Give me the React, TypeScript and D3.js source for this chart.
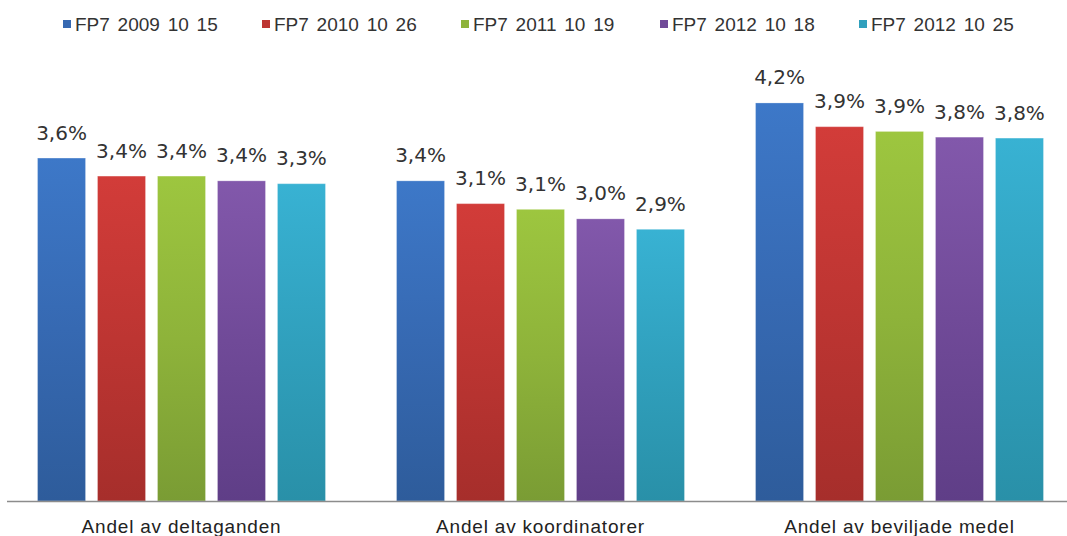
import React from "react";
import * as d3 from "d3";

// categories on the x axis
const categories = ["Andel av deltaganden", "Andel av koordinatorer", "Andel av beviljade medel"];

// series (legend) names
const seriesNames = ["FP7 2009 10 15", "FP7 2010 10 26", "FP7 2011 10 19", "FP7 2012 10 18", "FP7 2012 10 25"];

// values in percent, one array per series (order follows categories)
const fp2009 = [3.61, 3.37, 4.19];
const fp2010 = [3.42, 3.13, 3.94];
const fp2011 = [3.42, 3.07, 3.89];
const fp2012a = [3.37, 2.97, 3.83];
const fp2012b = [3.34, 2.86, 3.82];

const seriesValues = [fp2009, fp2010, fp2011, fp2012a, fp2012b];

// top / mid / bottom gradient colours per series
const palette = [
  ["#3d78c8", "#3669b2", "#2e5c9b"],
  ["#d23c39", "#bd3532", "#a62e2b"],
  ["#9dc63f", "#8eb33a", "#7a9c34"],
  ["#8258ab", "#704a98", "#5f3e87"],
  ["#38b2d3", "#30a0bd", "#2990a8"],
];

const W = 1067;
const H = 536;

export default function App() {
  const x0 = d3.scaleBand<string>()
    .domain(categories)
    .range([2, 1079])
    .paddingInner(0.198)
    .paddingOuter(0.099);

  const x1 = d3.scaleBand<string>()
    .domain(seriesNames)
    .range([0, x0.bandwidth()])
    .paddingInner(0.2);

  const y = d3.scaleLinear().domain([0, 4.5]).range([501, 73.5]);

  const fmt = (v: number) => d3.format(".1f")(v).replace(".", ",") + "%";

  const legendStart = 63;
  const legendStep = 199;

  return (
    <svg
      width={W}
      height={H}
      style={{ position: "absolute", left: 0, top: 0, background: "#fff" }}
    >
      <defs>
        {palette.map((c, i) => (
          <linearGradient key={i} id={"g" + i} x1="0" y1="0" x2="0" y2="1">
            <stop offset="0%" stopColor={c[0]} />
            <stop offset="50%" stopColor={c[1]} />
            <stop offset="100%" stopColor={c[2]} />
          </linearGradient>
        ))}
      </defs>

      {/* legend */}
      <g>
        {seriesNames.map((s, i) => (
          <g key={s} transform={`translate(${legendStart + i * legendStep},0)`}>
            <rect x={0} y={20} width={8} height={8} fill={palette[i][1]} />
            <text
              x={12}
              y={31}
              fontFamily="'Liberation Sans', Arial, sans-serif"
              fontSize={19}
              wordSpacing={2.5}
              fill="#333"
            >
              {s}
            </text>
          </g>
        ))}
      </g>

      {/* bars */}
      {categories.map((c, ci) => (
        <g key={c} transform={`translate(${x0(c)},0)`}>
          {seriesNames.map((s, si) => {
            const v = seriesValues[si][ci];
            const bx = x1(s) as number;
            const top = y(v);
            return (
              <g key={s}>
                <rect
                  x={bx}
                  y={top}
                  width={x1.bandwidth()}
                  height={y(0) - top}
                  fill={`url(#g${si})`}
                  stroke="#ffffff"
                  strokeOpacity={0.25}
                  strokeWidth={1}
                />
                <text
                  x={bx + x1.bandwidth() / 2}
                  y={top - 18.5}
                  textAnchor="middle"
                  fontFamily="'DejaVu Sans', sans-serif"
                  fontSize={20}
                  fill="#333"
                >
                  {fmt(v)}
                </text>
              </g>
            );
          })}
        </g>
      ))}

      {/* axis line */}
      <line x1={7} x2={W} y1={y(0) + 0.5} y2={y(0) + 0.5} stroke="#8c8c8c" strokeWidth={1.5} />

      {/* category labels */}
      {categories.map((c) => (
        <text
          key={c}
          x={(x0(c) as number) + x0.bandwidth() / 2}
          y={533}
          textAnchor="middle"
          fontFamily="'Liberation Sans', Arial, sans-serif"
          fontSize={19}
          letterSpacing={0.8}
          fill="#222"
        >
          {c}
        </text>
      ))}
    </svg>
  );
}
